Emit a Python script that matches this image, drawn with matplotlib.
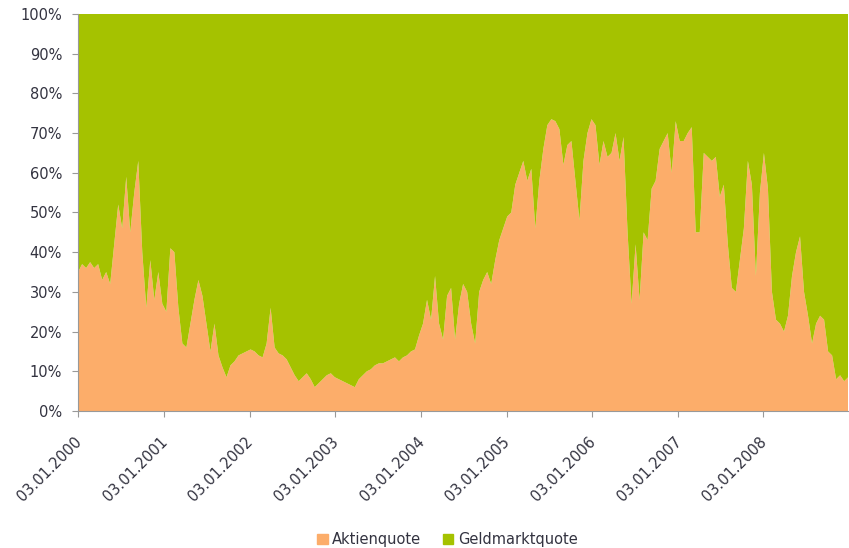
#Aktienquote vs Geldmarktquote, 2000-2008
import pandas as pd
import matplotlib
matplotlib.use("Agg")
import matplotlib.pyplot as plt
import matplotlib.transforms as mtrans
from matplotlib.patches import Patch
from matplotlib.ticker import FuncFormatter

# share of stocks in % (roughly every 2-3 weeks)
aktien = [
    35, 37, 36, 37.5, 36, 37, 33, 35, 32,
    42, 52, 46, 59, 45, 55, 63, 40, 26, 38, 28, 35, 27, 25, 41, 40,
    26, 17, 16, 22, 28, 33, 29, 22, 15, 22, 14, 11, 8.5, 11.5, 12.5,
    14, 14.5, 15, 15.5, 15, 14, 13.5, 17, 26, 16, 14.5, 14, 13, 11,
    9, 7.5, 8.5, 9.5, 8, 6, 7, 8, 9, 9.5, 8.5, 8, 7.5, 7, 6.5, 6,
    8, 9, 10, 10.5, 11.5, 12, 12, 12.5, 13, 13.5, 12.5, 13.5, 14, 15,
    15.5, 19, 22, 28, 23, 34, 22, 18, 29, 31, 18, 27, 32, 30, 22, 17,
    30, 33, 35, 32, 38, 43, 46, 49, 50, 57, 60, 63, 58, 61, 46, 58,
    66, 72, 73.5, 73, 71, 62, 67, 68, 58, 48, 63, 70, 73.5, 72, 62,
    68, 64, 65, 70, 63, 69, 45, 27, 42, 28, 45, 43, 56, 58, 66, 68,
    70, 60, 73, 68, 68, 70, 71.5, 45, 45, 65, 64, 63, 64, 54, 57, 42,
    31, 30, 38, 46, 63, 57, 34, 55, 65, 56, 30, 23, 22, 20, 24, 34,
    40, 44, 30, 24, 17, 22, 24, 23, 15, 14, 8, 9, 7.5, 8.5,
]
# the rest is money market
geldmarkt = [100 - a for a in aktien]

dates = pd.date_range("2000-01-03", "2008-12-30", periods=len(aktien))
tick_dates = pd.to_datetime(["%d-01-03" % y for y in range(2000, 2009)])

orange = "#FCAD6A"
green = "#A5C200"
textcol = "#333340"

plt.rcParams['font.family'] = ['DejaVu Sans']

fig = plt.figure(figsize=(8.49, 5.48), dpi=100)
ax = fig.add_axes([0.092, 0.25, 0.907, 0.7245])

ax.stackplot(dates, aktien, geldmarkt, colors=[orange, green], linewidth=0)

ax.set_xlim(dates[0], dates[-1])
ax.set_ylim(0, 100)
ax.set_yticks(range(0, 101, 10))
ax.yaxis.set_major_formatter(FuncFormatter(lambda v, p: "%d%%" % v))

ax.set_xticks(tick_dates)
ax.set_xticklabels([d.strftime("%d.%m.%Y") for d in tick_dates],
                   rotation=45, ha='right', rotation_mode='anchor')

ax.tick_params(axis='both', labelsize=10.5, colors='#999999', labelcolor=textcol,
               direction='out', length=4.5)
ax.tick_params(axis='x', pad=12)
ax.tick_params(axis='y', pad=7)

# move the date labels a little so their ends sit just right of the ticks
shift = mtrans.ScaledTranslation(-3 / 72, 0, fig.dpi_scale_trans)
for lab in ax.get_xticklabels():
    lab.set_transform(lab.get_transform() + shift)

ax.spines['top'].set_visible(False)
ax.spines['right'].set_visible(False)
ax.spines['left'].set_color('#999999')
ax.spines['bottom'].set_color('#999999')

handles = [Patch(color=orange, label='Aktienquote'),
           Patch(color=green, label='Geldmarktquote')]
fig.legend(handles=handles, loc='lower center', ncol=2, frameon=False,
           fontsize=10.5, handlelength=0.7, handleheight=0.7, labelcolor=textcol,
           handletextpad=0.3, columnspacing=1.5, bbox_to_anchor=(0.527, -0.022))

fig.savefig("out.png", dpi=100)
